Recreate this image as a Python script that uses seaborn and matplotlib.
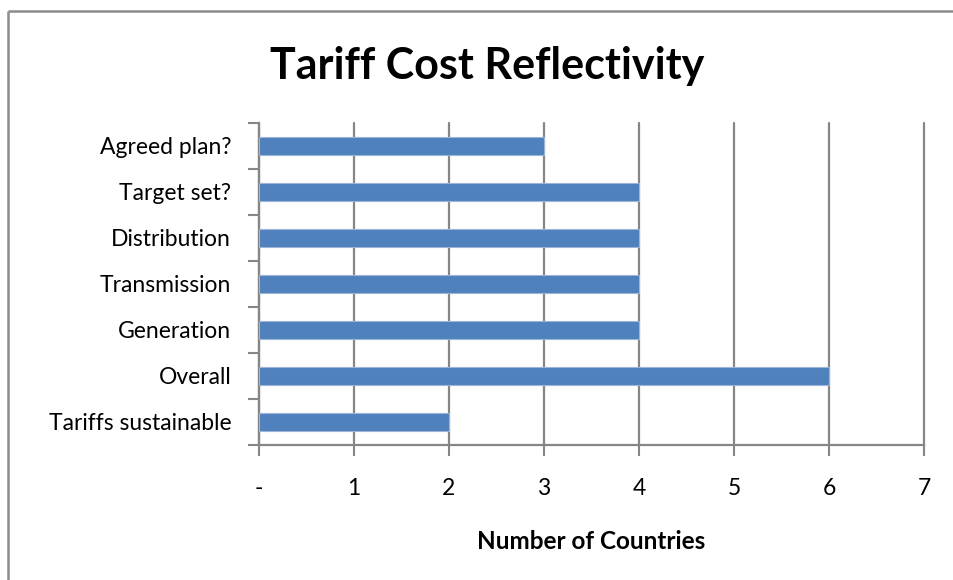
import matplotlib
matplotlib.use("Agg")
import matplotlib.pyplot as plt
import seaborn as sns
import pandas as pd
from matplotlib.lines import Line2D

categories = ["Agreed plan?", "Target set?", "Distribution", "Transmission",
              "Generation", "Overall", "Tariffs sustainable"]
counts = [3, 4, 4, 4, 4, 6, 2]
x_ticks = [0, 1, 2, 3, 4, 5, 6, 7]
x_tick_labels = ["-", "1", "2", "3", "4", "5", "6", "7"]

sns.set_theme(style="white")
plt.rcParams["font.family"] = ["Lato", "DejaVu Sans"]
plt.rcParams["text.color"] = "black"

df = pd.DataFrame({"category": categories, "count": counts})

fig = plt.figure(figsize=(9.54, 5.80), dpi=100)
fig.patch.set_facecolor("white")
fig.patch.set_linewidth(0)
ax = fig.add_axes([259 / 954, 1 - 445 / 580, 665 / 954, 322 / 580])

sns.barplot(data=df, y="category", x="count", orient="h", order=categories,
            color="#4F81BD", saturation=1, width=0.39,
            edgecolor="#9DB6D8", linewidth=0.8, ax=ax, zorder=3)

grid_col = "#868686"
ax.set_xlim(0, 7)
ax.set_ylim(len(categories) - 0.5, -0.5)
ax.set_xticks(x_ticks)
ax.set_xticklabels(x_tick_labels, fontsize=16.5, color="black")
ax.tick_params(axis="x", length=8, width=1.5, color=grid_col, pad=16, bottom=True)

ax.set_yticks(range(len(categories)))
ax.set_yticklabels(categories, fontsize=16.5, color="black")
ax.set_yticks([i - 0.5 for i in range(len(categories) + 1)], minor=True)
ax.tick_params(axis="y", which="major", length=0, pad=20)
ax.tick_params(axis="y", which="minor", length=8, width=1.5, color=grid_col, left=True)

ax.xaxis.grid(True, color=grid_col, linewidth=1.6, zorder=0)
ax.yaxis.grid(False)
for gl in ax.get_xgridlines():
    gl.set_clip_on(False)
ax.set_axisbelow(True)

for side in ["top", "right"]:
    ax.spines[side].set_visible(False)
for side in ["left", "bottom"]:
    ax.spines[side].set_color(grid_col)
    ax.spines[side].set_linewidth(1.6)

ax.set_ylabel("")
ax.set_xlabel("Number of Countries", fontsize=17.5, fontweight="bold",
              labelpad=22, color="black")

fig.text(487 / 954, 1 - 66 / 580, "Tariff Cost Reflectivity", ha="center", va="center",
         fontsize=31, fontweight="bold", color="black")

# chart-area frame: only its left and top edges fall inside the image
frame_x = 8 / 954
frame_y = 1 - 11 / 580
fig.add_artist(Line2D([frame_x, frame_x], [0, frame_y], transform=fig.transFigure,
                      color="#8C8C8C", linewidth=1.8, solid_capstyle="butt"))
fig.add_artist(Line2D([frame_x, 1], [frame_y, frame_y], transform=fig.transFigure,
                      color="#8C8C8C", linewidth=1.8, solid_capstyle="butt"))

fig.savefig("out.png", dpi=100, facecolor="white", edgecolor="none")
